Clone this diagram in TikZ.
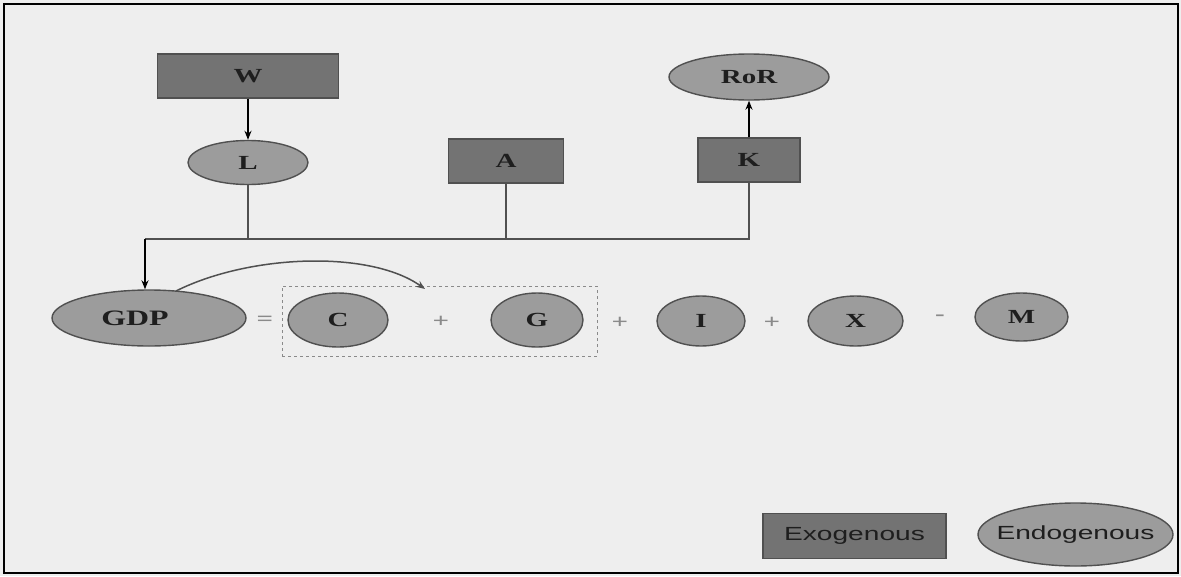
\documentclass[tikz,border=0pt]{standalone}
\usepackage{fontspec}
\setmainfont{Liberation Serif}
\newfontfamily\lblfont[FakeStretch=1.45]{Liberation Serif}
\newfontfamily\legfont[FakeStretch=1.48]{Liberation Sans}
\usetikzlibrary{shapes.geometric,arrows.meta}
\definecolor{bgc}{HTML}{EEEEEE}
\definecolor{exo}{HTML}{737373}
\definecolor{endo}{HTML}{9C9C9C}
\definecolor{edge}{HTML}{505050}
\definecolor{opc}{HTML}{8A8A8A}
\definecolor{txt}{HTML}{1E1E1E}
\tikzset{
  exobox/.style={rectangle, draw=edge, line width=1.4pt, fill=exo, inner sep=0pt, text=txt, font=\lblfont\bfseries\fontsize{20}{20}\selectfont},
  endoell/.style={ellipse, draw=edge, line width=1.4pt, fill=endo, inner sep=0pt, text=txt, font=\lblfont\bfseries\fontsize{20}{20}\selectfont},
  conn/.style={draw=edge, line width=1.5pt},
  arr/.style={draw=black, line width=1.5pt, -{Stealth[length=9pt,width=7pt]}},
  op/.style={text=opc, font=\lblfont\bfseries\fontsize{20}{20}\selectfont, inner sep=0pt},
}
\begin{document}
\begin{tikzpicture}[x=1pt,y=-1pt]
\fill[bgc] (0,0) rectangle (1181,576);
\draw[black, line width=1.2pt] (4,4) rectangle (1178,573);
\useasboundingbox (0,0) rectangle (1181,576);

% top nodes
\node[exobox, minimum width=181pt, minimum height=44pt] (W) at (248,76) {W};
\node[endoell, minimum width=120pt, minimum height=44pt] (L) at (248,162.5) {L};
\node[exobox, minimum width=115pt, minimum height=44pt] (A) at (506,161) {A};
\node[exobox, minimum width=102pt, minimum height=44pt] (K) at (749,160) {K};
\node[endoell, minimum width=160pt, minimum height=46pt] (RoR) at (749,77) {RoR};

% equation row
\node[endoell, minimum width=194pt, minimum height=56pt,
      label={[text=txt, font=\lblfont\bfseries\fontsize{22}{22}\selectfont, inner sep=0pt, xshift=-14pt]center:GDP}] (GDP) at (149,318) {};
\node[op] (eq) at (265,321) {=};
\node[rectangle, draw=opc, dashed, line width=1pt, minimum width=315pt, minimum height=70pt, inner sep=0pt] (box) at (439.5,321) {};
\node[endoell, minimum width=100pt, minimum height=54pt] (C) at (338,320) {C};
\node[op] (p0) at (441,322) {+};
\node[endoell, minimum width=92pt, minimum height=54pt] (G) at (537,320) {G};
\node[op] (p1) at (620,323) {+};
\node[endoell, minimum width=88pt, minimum height=50pt] (I) at (701,321) {I};
\node[op] (p2) at (772,323) {+};
\node[endoell, minimum width=95pt, minimum height=50pt] (X) at (855.5,321) {X};
\node[op] (mi) at (940,318) {-};
\node[endoell, minimum width=93pt, minimum height=48pt] (M) at (1021.5,317) {M};

% legend
\node[exobox, minimum width=183pt, minimum height=45pt, font=\legfont\fontsize{19}{19}\selectfont] (exoleg) at (854.5,536) {Exogenous};
\node[endoell, minimum width=195pt, minimum height=63pt,
      label={[text=txt, font=\legfont\fontsize{19}{19}\selectfont, inner sep=0pt]center:Endogenous}] (endoleg) at (1075.5,534.5) {};

% connectors
\coordinate (bus) at (145,239);
\draw[arr] (W.south) -- (L.north);
\draw[arr] (K.north) -- (RoR.south);
\draw[conn] (K.south) |- (bus);
\draw[conn] (L.south) -- (L.south |- bus);
\draw[conn] (A.south) -- (A.south |- bus);
\draw[arr] (bus) -- (bus |- GDP.north);
\coordinate (cs) at (176,291);
\coordinate (ce) at (425,289);
\draw[draw=edge, line width=1.5pt, -{Stealth[length=9pt,width=7pt]}] (cs) .. controls (250,254) and (370,250) .. (ce);
\end{tikzpicture}
\end{document}
